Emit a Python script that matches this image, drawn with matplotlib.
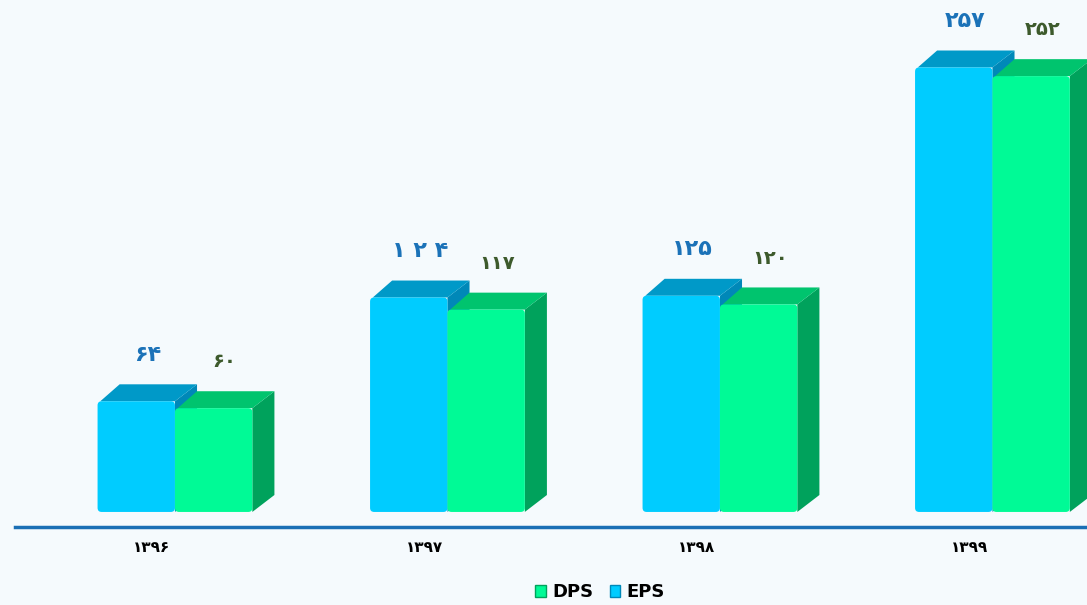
import matplotlib.pyplot as plt
from matplotlib.patches import Polygon, FancyBboxPatch, Patch

# datos del grafico (digitos persas)
years = ['۱۳۹۶', '۱۳۹۷', '۱۳۹۸', '۱۳۹۹']
eps = [64, 124, 125, 257]
dps = [60, 117, 120, 252]
eps_labels = ['۶۴', '۱ ۲ ۴', '۱۲۵', '۲۵۷']
dps_labels = ['۶۰', '۱۱۷', '۱۲۰', '۲۵۲']

bg = '#f5fafd'
eps_cols = ('#00ccff', '#0099c8', '#0088b8')   # frente, tapa, lado
dps_cols = ('#00fa96', '#00c46e', '#00a25c')

plt.rcParams['font.family'] = ['DejaVu Sans']

fig = plt.figure(figsize=(10.87, 6.05), dpi=100, facecolor=bg)
ax = fig.add_axes([15 / 1087, 78 / 605, 1 - 15 / 1087, 1 - 78 / 605])
ax.set_facecolor(bg)
ax.set_xlim(-0.587, 3.347)
ax.set_ylim(-8.7, 296)
ax.axis('off')

w = 0.284      # ancho de la barra
dx = 0.081     # profundidad en x
dy = 9.8       # profundidad en y


def barra(x0, v, cols, z):
    front, top, side = cols
    ax.add_patch(Polygon([(x0 + w, 0), (x0 + w + dx, dy), (x0 + w + dx, v + dy), (x0 + w, v)],
                         closed=True, facecolor=side, edgecolor='none', zorder=z))
    ax.add_patch(Polygon([(x0 + 0.01, v), (x0 + dx, v + dy), (x0 + w + dx, v + dy), (x0 + w, v)],
                         closed=True, facecolor=top, edgecolor='none', zorder=z))
    # frente con esquinas redondeadas
    ax.add_patch(FancyBboxPatch((x0, 0), w, v, boxstyle='round,pad=0,rounding_size=0.015',
                                mutation_aspect=157, facecolor=front, edgecolor='none',
                                zorder=z + 0.5))


for i in range(len(years)):
    barra(i - w, eps[i], eps_cols, 2)
    barra(i, dps[i], dps_cols, 3)
    ax.text(i - w / 2 + dx / 2, eps[i] + dy + 17, eps_labels[i], ha='center', va='center',
            fontsize=16, fontweight='bold', color='#1b72b8')
    ax.text(i + w / 2 + dx / 2, dps[i] + dy + 17, dps_labels[i], ha='center', va='center',
            fontsize=14, fontweight='bold', color='#3d5a2c')
    ax.text(i - 0.085, -20.5, years[i], ha='center', va='center', fontsize=11,
            fontweight='bold', color='black', clip_on=False)

# linea del eje
ax.axhline(-8.7, color='#1a6fb5', linewidth=2.5, zorder=5, clip_on=False)

handles = [Patch(facecolor=dps_cols[0], edgecolor=dps_cols[2]),
           Patch(facecolor=eps_cols[0], edgecolor=eps_cols[2])]
fig.legend(handles, ['DPS', 'EPS'], loc='center', bbox_to_anchor=(0.552, 0.021),
           ncol=2, frameon=False, handlelength=0.6, handleheight=0.6, handletextpad=0.35,
           columnspacing=0.9, prop={'weight': 'bold', 'size': 13})

plt.savefig('out.png', dpi=100, facecolor=bg)
